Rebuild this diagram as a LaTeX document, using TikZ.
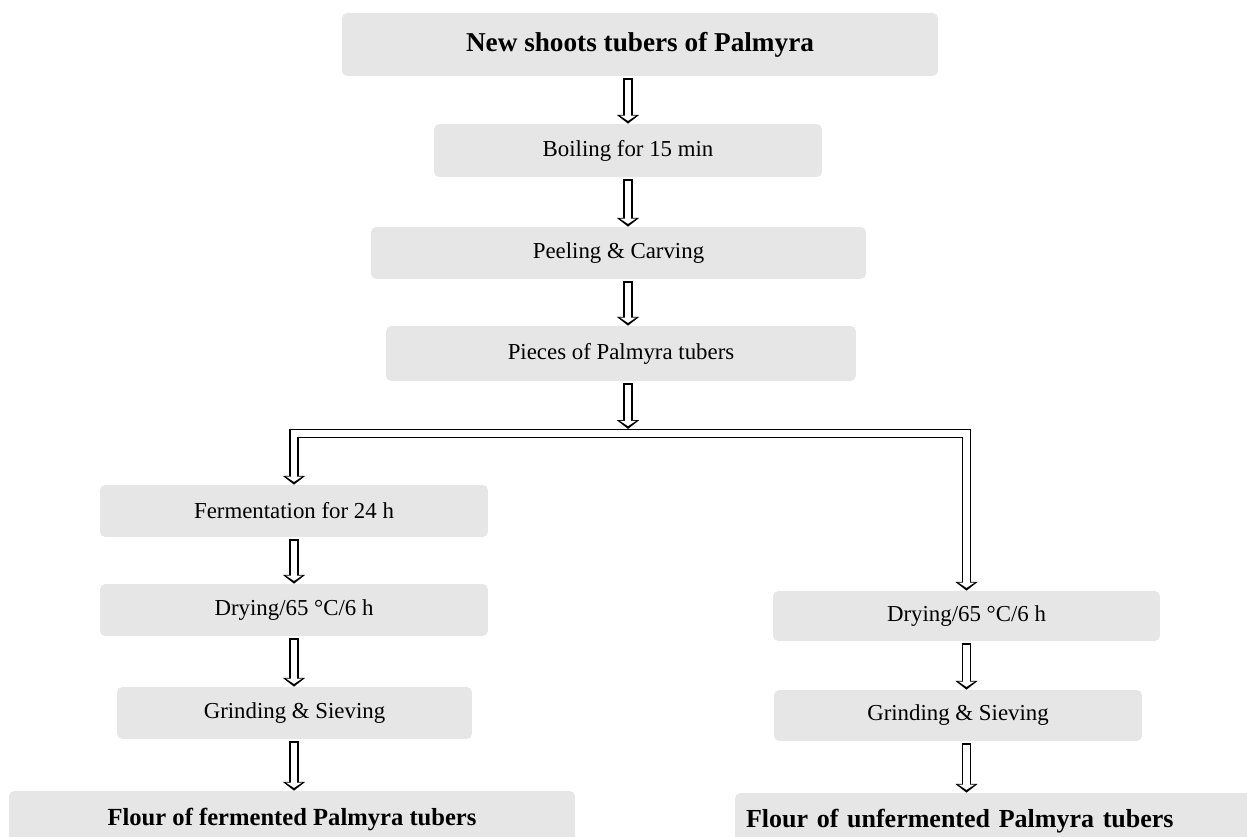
\documentclass[tikz,border=0pt]{standalone}
\usepackage{fontspec}
\setmainfont{Liberation Serif}
\usetikzlibrary{arrows.meta,positioning}
\definecolor{boxgray}{RGB}{230,230,230}

\begin{document}
\begin{tikzpicture}[x=0.02cm,y=-0.02cm,
  stepbox/.style={fill=boxgray,rounded corners=3pt,inner sep=0pt,
    font=\fontsize{13}{15}\selectfont},
  topbox/.style={stepbox,font=\bfseries\fontsize{15.5}{18}\selectfont},
  endbox/.style={stepbox,font=\bfseries\fontsize{14}{17}\selectfont},
  bigtip/.tip={Triangle[length=5pt,width=12.5pt]},
  smalltip/.tip={Triangle[length=3pt,width=9pt]},
  hollow/.style={line width=5.2pt,-{bigtip},shorten <=1pt,shorten >=#1,
    postaction={draw=white,line width=3.6pt,-{smalltip},
      shorten <=1.8pt,shorten >=#1+1.6pt}},
  hollow/.default=0pt
]
\useasboundingbox (0,0) rectangle (1247,837);
\clip (0,0) rectangle (1247,837);

% the main line
\node[topbox,minimum width=11.92cm,minimum height=1.26cm] (b1) at (640,44.5) {New shoots tubers of Palmyra};
\node[stepbox,minimum width=7.76cm,minimum height=1.06cm] (b2) at (628,150.5) {Boiling for 15 min};
\node[stepbox,minimum width=9.9cm,minimum height=1.04cm] (b3) at (618.5,253) {Peeling \& Carving};
\node[stepbox,minimum width=9.4cm,minimum height=1.1cm] (b4) at (621,353.5) {Pieces of Palmyra tubers};
\coordinate (bar) at (628,433.5);

% the fermented branch
\node[stepbox,minimum width=7.76cm,minimum height=1.04cm] (b5) at (294,511) {Fermentation for 24 h};
\node[stepbox,minimum width=7.76cm,minimum height=1.04cm] (b6) at (294,610) {Drying/65 °C/6 h};
\node[stepbox,minimum width=7.1cm,minimum height=1.04cm] (b7) at (294.5,713) {Grinding \& Sieving};
\node[endbox,minimum width=11.32cm,minimum height=1.12cm] (b8) at (292,819) {Flour of fermented Palmyra tubers};

% the unfermented branch
\node[stepbox,minimum width=7.74cm,minimum height=1cm] (b9) at (966.5,616) {Drying/65 °C/6 h};
\node[stepbox,minimum width=7.36cm,minimum height=1.02cm] (b10) at (958,715.5) {Grinding \& Sieving};
\node[endbox,font=\bfseries\fontsize{14.8}{18}\selectfont,text width=10.06cm,align=left,
  inner xsep=0.22cm,minimum height=1.12cm] (b11) at (997.5,821) {Flour of unfermented Palmyra tubers};

% the arrows
\draw[hollow] (b1.south -| b2) -- (b2.north);
\draw[hollow] (b2.south) -- (b2 |- b3.north);
\draw[hollow] (b3.south -| b2) -- (b2 |- b4.north);
\draw[hollow=2.6pt] (b4.south -| bar) -- (bar);
\draw[line width=5.2pt,{bigtip}-{bigtip},
  postaction={draw=white,line width=3.6pt,{smalltip}-{smalltip},
    shorten <=1.6pt,shorten >=1.6pt}]
  (b5.north) |- (bar) -| (b9.north);
\draw[hollow] (b5.south) -- (b5 |- b6.north);
\draw[hollow] (b6.south) -- (b6 |- b7.north);
\draw[hollow] (b7.south -| b6) -- (b6 |- b8.north);
\draw[hollow] (b9.south) -- (b9 |- b10.north);
\draw[hollow] (b10.south -| b9) -- (b9 |- b11.north);
\end{tikzpicture}
\end{document}
